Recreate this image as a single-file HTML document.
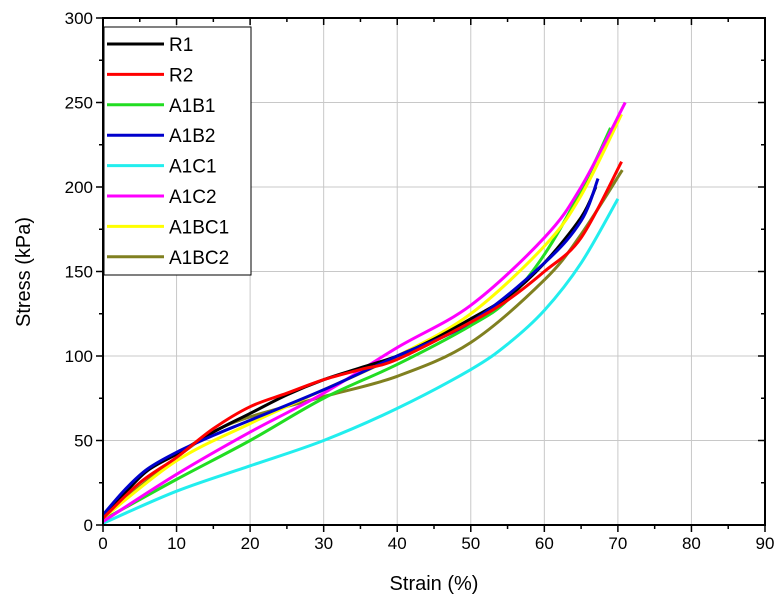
<!DOCTYPE html>
<html><head><meta charset="utf-8"><style>
body{margin:0;background:#fff;}
svg text{font-family:"Liberation Sans",Arial,sans-serif;}
</style></head><body>
<svg id="chart" width="782" height="606">
<g id="grid"></g>
<g id="series"></g>
<g id="axes"></g>
<text x="434" y="590" font-size="20" text-anchor="middle">Strain (%)</text>
<text transform="translate(30,272) rotate(-90)" font-size="20" text-anchor="middle">Stress (kPa)</text>
<g id="legend"></g>
</svg>
<script>
const xTicks=[0,10,20,30,40,50,60,70,80,90];
const yTicks=[0,50,100,150,200,250,300];
const seriesNames=["R1","R2","A1B1","A1B2","A1C1","A1C2","A1BC1","A1BC2"];
const seriesColors=["#000000","#ff0000","#22dd22","#0000cc","#22eeee","#ff00ff","#ffff00","#808020"];
const strainR1=[0,3,6,10,15,20,25,30,35,40,45,50,55,60,65,67];
const stressR1=[5,19,32,42,55,66,77,86,93,100,110,122,135,155,182,200];
const strainR2=[0,5,10,15,20,25,30,35,40,50,55,60,65,70.5];
const stressR2=[4,25,40,57,70,78,86,92,98,120,133,150,170,215];
const strainA1B1=[0,10,20,30,40,50,55,60,65,69];
const stressA1B1=[3,27,50,75,95,118,133,160,198,235];
const strainA1B2=[0,3,6,10,15,20,30,40,50,60,65,67.3];
const stressA1B2=[6,21,33,43,53,62,80,100,120,155,180,205];
const strainA1C1=[0,10,20,30,40,50,55,60,65,70];
const stressA1C1=[1,20,35,50,69,92,107,127,155,193];
const strainA1C2=[0,10,20,30,40,50,60,65,71];
const stressA1C2=[2,30,55,78,105,130,170,200,250];
const strainA1BC1=[0,10,20,30,40,50,60,65,70.5];
const stressA1BC1=[4,38,60,80,100,125,165,195,243];
const strainA1BC2=[0,10,15,20,30,40,50,60,65,70.6];
const stressA1BC2=[5,40,55,64,76,88,108,145,172,210];
const xs=[strainR1,strainR2,strainA1B1,strainA1B2,strainA1C1,strainA1C2,strainA1BC1,strainA1BC2];
const ys=[stressR1,stressR2,stressA1B1,stressA1B2,stressA1C1,stressA1C2,stressA1BC1,stressA1BC2];

const L=103,R=765,T=18,B=525;
const sx=v=>L+(v-0)/90*(R-L);
const sy=v=>B-(v-0)/300*(B-T);
const NS="http://www.w3.org/2000/svg";
function mk(tag,attrs,parent){const e=document.createElementNS(NS,tag);for(const k in attrs)e.setAttribute(k,attrs[k]);parent.appendChild(e);return e;}
const grid=document.getElementById('grid'),axes=document.getElementById('axes'),ser=document.getElementById('series'),leg=document.getElementById('legend');
xTicks.forEach(t=>{
 if(t>0&&t<90){const g=mk('line',{x1:sx(t),x2:sx(t),y1:T,y2:B,stroke:'#c8c8c8','stroke-width':1},grid);
 
 }
 const tl=mk('text',{x:sx(t),y:B+24,'font-size':17,'text-anchor':'middle'},axes);tl.textContent=t;
 
 
 mk('line',{x1:sx(t),x2:sx(t),y1:B,y2:B+7,stroke:'#000','stroke-width':1.5},axes);
 if(t<90){const m=sx(t+5);mk('line',{x1:m,x2:m,y1:B,y2:B+4,stroke:'#000','stroke-width':1.5},axes);mk('line',{x1:m,x2:m,y1:T,y2:T+4,stroke:'#000','stroke-width':1.5},axes);}
 mk('line',{x1:sx(t),x2:sx(t),y1:T,y2:T+7,stroke:'#000','stroke-width':1.5},axes);
});
yTicks.forEach(t=>{
 if(t>0&&t<300){const g=mk('line',{x1:L,x2:R,y1:sy(t),y2:sy(t),stroke:'#c8c8c8','stroke-width':1},grid);
 
 }
 const tl=mk('text',{x:L-10,y:sy(t)+6,'font-size':17,'text-anchor':'end'},axes);tl.textContent=t;
 
 
 mk('line',{x1:L-7,x2:L,y1:sy(t),y2:sy(t),stroke:'#000','stroke-width':1.5},axes);
 mk('line',{x1:R-7,x2:R,y1:sy(t),y2:sy(t),stroke:'#000','stroke-width':1.5},axes);
 if(t<300){const m=sy(t+25);mk('line',{x1:L-4,x2:L,y1:m,y2:m,stroke:'#000','stroke-width':1.5},axes);mk('line',{x1:R-4,x2:R,y1:m,y2:m,stroke:'#000','stroke-width':1.5},axes);}
});
mk('rect',{x:L,y:T,width:R-L,height:B-T,fill:'none',stroke:'#000','stroke-width':2},axes);
function smooth(px,py){let d=`M${px[0]},${py[0]}`;for(let i=0;i<px.length-1;i++){const x0=px[i-1]??px[i],y0=py[i-1]??py[i],x3=px[i+2]??px[i+1],y3=py[i+2]??py[i+1];
 const c1x=px[i]+(px[i+1]-x0)/6,c1y=py[i]+(py[i+1]-y0)/6,c2x=px[i+1]-(x3-px[i])/6,c2y=py[i+1]-(y3-py[i])/6;
 d+=` C${c1x},${c1y} ${c2x},${c2y} ${px[i+1]},${py[i+1]}`;}return d;}
const order=[4,7,2,6,5,0,3,1];
order.forEach(i=>{
 const p=mk('path',{d:smooth(xs[i].map(sx),ys[i].map(sy)),fill:'none',stroke:seriesColors[i],'stroke-width':3,'stroke-linejoin':'round'},ser);
 
 
});
mk('rect',{x:104,y:27,width:147,height:248,fill:'#fff',stroke:'#000','stroke-width':1},leg);
seriesNames.forEach((n,i)=>{
 const y=44+i*30.4;
 const g=mk('g',{},leg);
 
 
 mk('line',{x1:107,x2:164,y1:y,y2:y,stroke:seriesColors[i],'stroke-width':3},g);
 const t=mk('text',{x:169,y:y+7,'font-size':19},g);t.textContent=n;
});
</script>
</body></html>
